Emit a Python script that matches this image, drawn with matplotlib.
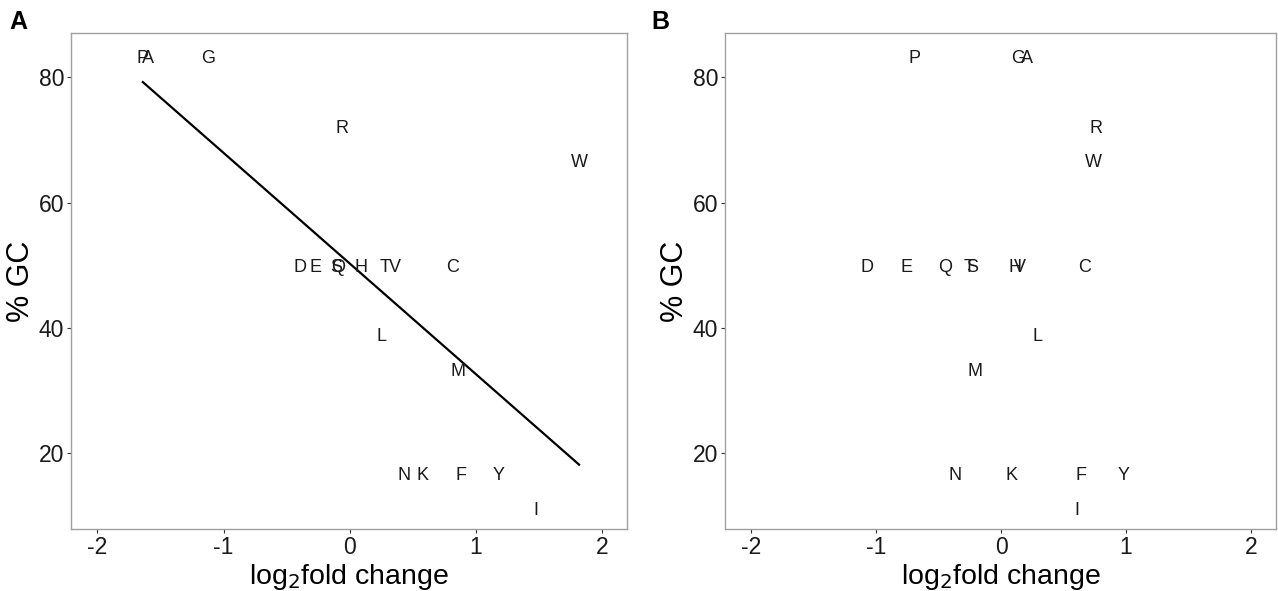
import numpy as np
import matplotlib
matplotlib.use("Agg")
import matplotlib.pyplot as plt

plt.rcParams['font.family'] = ['Liberation Sans', 'DejaVu Sans']
plt.rcParams['axes.unicode_minus'] = False

# amino acids and codon GC content (%)
aa = ["P", "A", "G", "R", "W", "D", "E", "S", "Q", "H", "T", "V", "C",
      "L", "M", "N", "K", "F", "Y", "I"]
gc = [83.3, 83.3, 83.3, 72.2, 66.7, 50, 50, 50, 50, 50, 50, 50, 50,
      38.9, 33.3, 16.7, 16.7, 16.7, 16.7, 11.1]

# log2 fold change, panel A
lfc_a = [-1.64, -1.60, -1.12, -0.06, 1.82, -0.39, -0.27, -0.11, -0.09, 0.09,
         0.28, 0.36, 0.82, 0.25, 0.86, 0.43, 0.58, 0.88, 1.18, 1.48]
# log2 fold change, panel B
lfc_b = [-0.69, 0.21, 0.14, 0.76, 0.74, -1.07, -0.76, -0.23, -0.45, 0.11,
         -0.26, 0.15, 0.67, 0.29, -0.21, -0.37, 0.08, 0.64, 0.98, 0.61]

xticks = [-2, -1, 0, 1, 2]
yticks = [20, 40, 60, 80]

fig = plt.figure(figsize=(12.78, 5.91), dpi=100)
ax_a = fig.add_axes([71 / 1278, 62 / 591, 556 / 1278, 496 / 591])
ax_b = fig.add_axes([725 / 1278, 62 / 591, 551 / 1278, 496 / 591])


def style(ax):
    ax.set_xlim(-2.21, 2.2)
    ax.set_ylim(7.8, 87.1)
    ax.set_xticks(xticks)
    ax.set_yticks(yticks)
    for s in ax.spines.values():
        s.set_color("#a0a0a0")
        s.set_linewidth(1.0)
    ax.tick_params(direction="out", length=3, width=0.8, color="#333333",
                   labelsize=16.5, labelcolor="#1a1a1a", pad=2)
    ax.set_xlabel("log$_2$fold change", fontsize=20.5, labelpad=2)
    ax.set_ylabel("% GC", fontsize=22, labelpad=2)


for ax, lfc in [(ax_a, lfc_a), (ax_b, lfc_b)]:
    style(ax)
    for name, x, y in zip(aa, lfc, gc):
        ax.text(x, y, name, ha="center", va="center_baseline", fontsize=13,
                color="#1a1a1a")

# linear fit in panel A
slope, icpt = np.polyfit(lfc_a, gc, 1)
xs = np.array([min(lfc_a), max(lfc_a)])
ax_a.plot(xs, slope * xs + icpt, color="black", lw=1.6)

fig.text(9 / 1278, 1 - 22 / 591, "A", fontsize=18, fontweight="bold",
         va="center", ha="left")
fig.text(651 / 1278, 1 - 22 / 591, "B", fontsize=18, fontweight="bold",
         va="center", ha="left")

fig.savefig("out.png", dpi=100)
